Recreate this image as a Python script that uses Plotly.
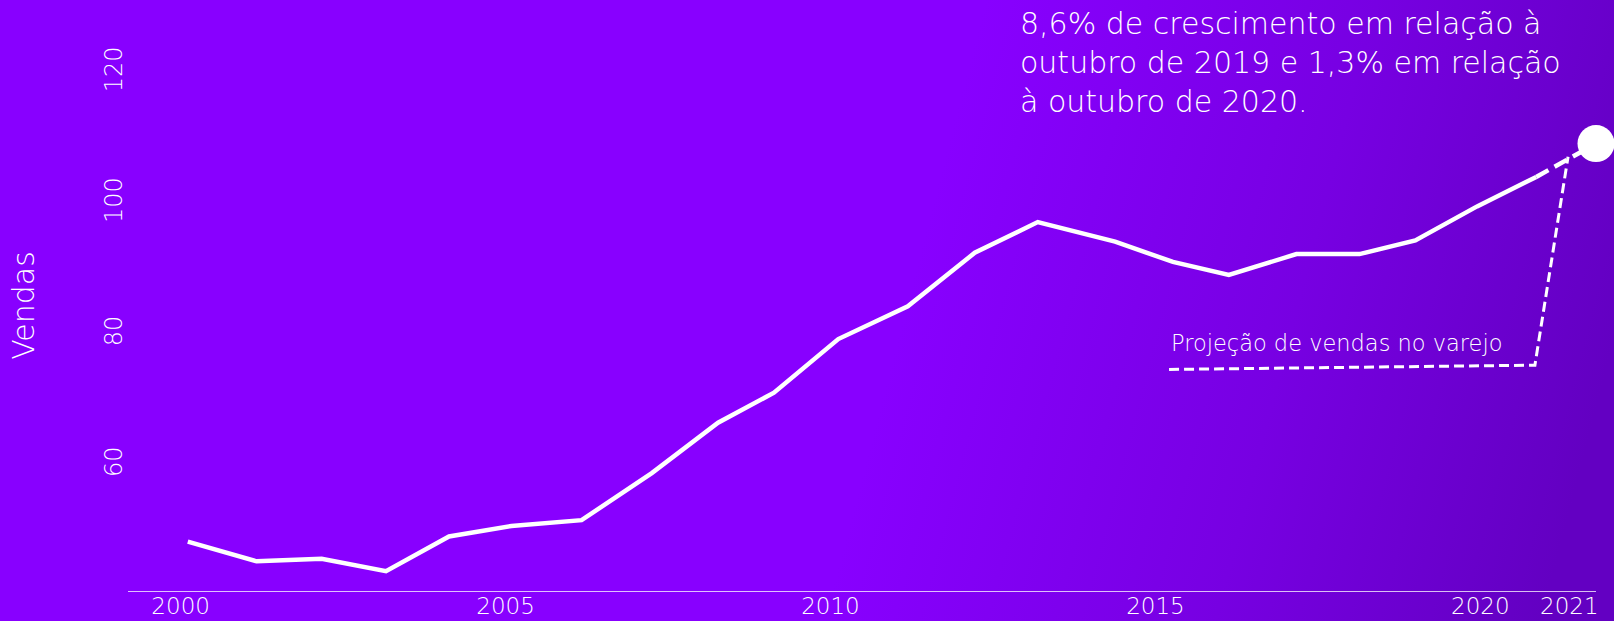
import base64
import plotly.graph_objects as go

# ---- data ----
anos = [2000.11, 2001.17, 2002.17, 2003.16, 2004.13, 2005.09, 2006.17, 2007.25,
        2008.27, 2009.13, 2010.12, 2011.19, 2012.22, 2013.19, 2014.38, 2015.27,
        2016.13, 2017.17, 2018.14, 2019.00, 2019.95, 2020.86]
vendas = [48.3, 45.3, 45.7, 43.8, 49.1, 50.7, 51.6, 58.8,
          66.5, 71.1, 79.3, 84.3, 92.5, 97.2, 94.2, 91.1,
          89.1, 92.3, 92.3, 94.4, 99.6, 104.1]
proj_x = [2020.86, 2021.78]
proj_y = [104.1, 109.2]
tick_vals = [2000, 2005, 2010, 2015, 2020, 2021.37]
tick_text = ["2000", "2005", "2010", "2015", "2020", "2021"]
y_ticks = [60, 80, 100, 120]
leader_x = [2015.21, 2020.84, 2021.35]
leader_y = [74.65, 75.31, 107.19]

titulo = "8,6% de crescimento em relação à<br>outubro de 2019 e 1,3% em relação<br>à outubro de 2020."
rotulo = "Projeção de vendas no varejo"

W, H = 1614, 621
ML, MR, MT, MB = 128, 18, 20, 30
FONT = "DejaVu Sans, Lato, sans-serif"

svg = f'''<svg xmlns="http://www.w3.org/2000/svg" width="{W}" height="{H}" viewBox="0 0 {W} {H}" preserveAspectRatio="none">
<defs><linearGradient id="g" x1="0" y1="0.45" x2="1" y2="0.55">
<stop offset="0" stop-color="#8800FF"/><stop offset="0.56" stop-color="#8800FF"/>
<stop offset="0.8" stop-color="#7700E2"/>
<stop offset="1" stop-color="#6300C2"/></linearGradient></defs>
<rect width="{W}" height="{H}" fill="url(#g)"/></svg>'''
src = "data:image/svg+xml;base64," + base64.b64encode(svg.encode()).decode()

pw = W - ML - MR
ph = H - MT - MB

fig = go.Figure()
fig.add_trace(go.Scatter(x=anos, y=vendas, mode="lines",
                         line=dict(color="white", width=4.5), hoverinfo="skip"))
fig.add_trace(go.Scatter(x=proj_x, y=proj_y, mode="lines",
                         line=dict(color="white", width=4.5, dash="14px,7px"), hoverinfo="skip"))
fig.add_trace(go.Scatter(x=[proj_x[-1]], y=[proj_y[-1]], mode="markers",
                         marker=dict(color="white", size=37), cliponaxis=False, hoverinfo="skip"))

path = "M " + " L ".join(f"{x},{y}" for x, y in zip(leader_x, leader_y))
fig.add_shape(type="path", path=path, xref="x", yref="y",
              line=dict(color="white", width=3, dash="10px,5px"))

fig.add_annotation(x=(1018 - ML) / pw, y=1 + (MT - 4) / ph, xref="paper", yref="paper",
                   xanchor="left", yanchor="top", align="left", showarrow=False,
                   text=titulo, font=dict(family=FONT, size=30, color="white", weight=200))
fig.add_annotation(x=leader_x[0], y=78.7, xref="x", yref="y", xanchor="left", yanchor="middle",
                   showarrow=False, text=rotulo,
                   font=dict(family=FONT, size=22.5, color="white", weight=200))

fig.add_layout_image(dict(source=src, xref="paper", yref="paper",
                          x=-ML / pw, y=1 + MT / ph, sizex=W / pw, sizey=H / ph,
                          xanchor="left", yanchor="top", sizing="stretch", layer="below"))

fig.update_layout(
    width=W, height=H, margin=dict(l=ML, r=MR, t=MT, b=MB, autoexpand=False),
    paper_bgcolor="#8800FF", plot_bgcolor="rgba(0,0,0,0)",
    showlegend=False,
    font=dict(family=FONT, color="white", weight=200),
    xaxis=dict(range=[1999.19, 2021.78], tickvals=tick_vals, ticktext=tick_text,
               showgrid=False, zeroline=False, showline=True, automargin=False,
               linecolor="rgba(255,255,255,0.75)", linewidth=1,
               ticklabelstandoff=-6,
               tickfont=dict(size=23, color="white")),
    yaxis=dict(range=[40.76, 128.11], tickvals=y_ticks, tickangle=-90,
               showgrid=False, zeroline=False, showline=False, automargin=False,
               tickfont=dict(size=24, color="white"),
               title=dict(text="Vendas", font=dict(size=30, color="white"), standoff=56)),
)

fig.write_html("out.html", config={"displayModeBar": False},
               post_script="document.body.style.margin='0';document.body.style.overflow='hidden';")
